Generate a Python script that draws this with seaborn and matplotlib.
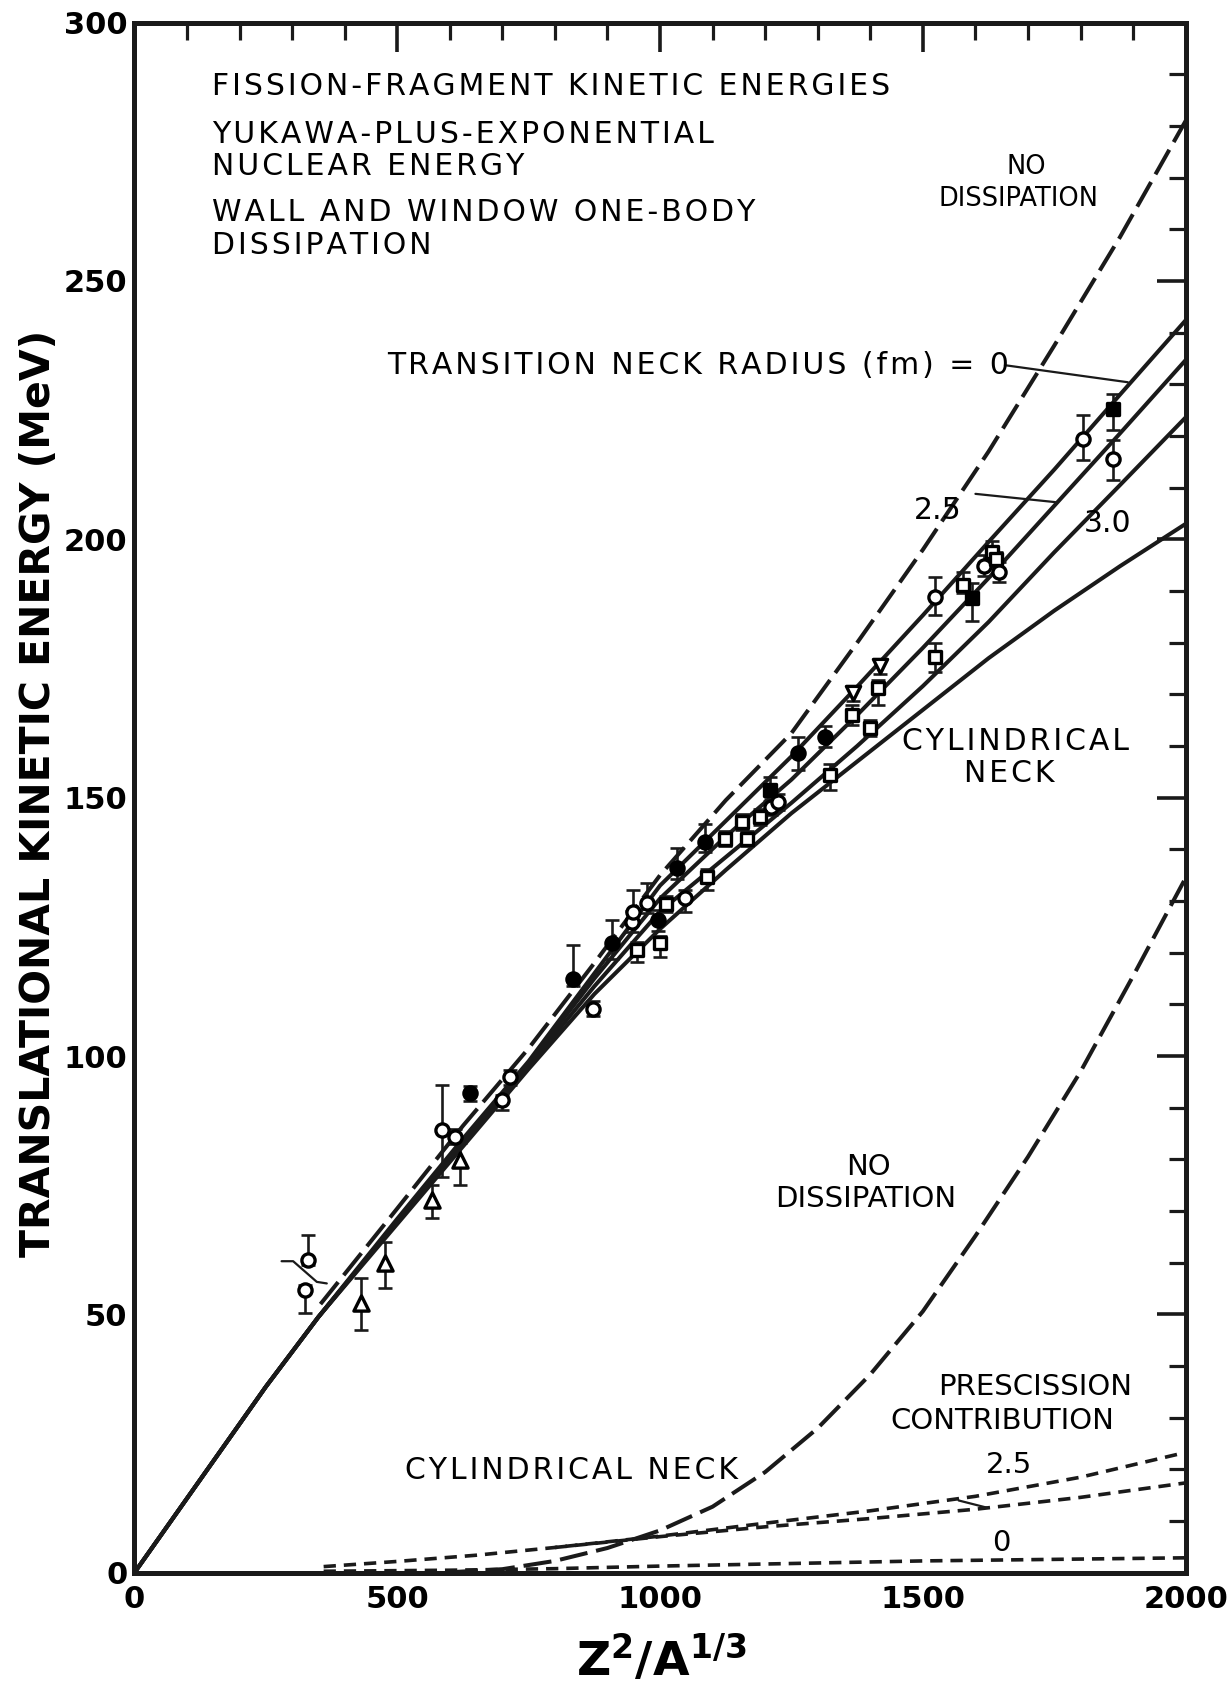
import numpy as np
import matplotlib
matplotlib.use("Agg")
import matplotlib.pyplot as plt
import seaborn as sns
from matplotlib.ticker import MultipleLocator

# --- DATA ---

# calculated fission-fragment kinetic energies, upper group of curves
X_CALC = [0, 250, 350, 500, 625, 750, 875, 1000, 1125, 1250, 1375, 1500, 1625, 1750, 1875, 2000]
TKE_NECK_0 = [0, 36, 49.5, 68.5, 84, 99, 116, 133, 145.5, 158, 171.5, 185.3, 199.5, 213.5, 228, 242.4]
TKE_NECK_25 = [0, 36, 49.5, 68, 83.5, 98.5, 115, 130.5, 142.5, 153.5, 166, 179, 192.5, 206.5, 220.5, 234.7]
TKE_NECK_30 = [0, 36, 49.5, 68, 83, 98, 113.5, 128, 138.5, 149, 160, 171.6, 184, 197.5, 210.5, 223.6]
TKE_CYL = [0, 36, 49.5, 67.5, 82.5, 97.5, 112, 124.6, 136, 147, 157, 167, 177, 186.2, 194.8, 203]

X_NODISS = [354, 500, 625, 750, 875, 1000, 1125, 1250, 1375, 1500, 1625, 1750, 1875, 2000]
TKE_NODISS = [52, 70.5, 86.5, 101.5, 118, 135, 149.5, 162.5, 180, 198, 217, 237.5, 258.5, 281]

# prescission contributions, lower group of curves
X_PRE_NODISS = [600, 700, 800, 900, 1000, 1100, 1200, 1300, 1400, 1500, 1600, 1700, 1800, 1900, 2000]
PRE_NODISS = [0.1, 0.7, 2.3, 4.8, 8.2, 12.8, 19.5, 28, 38.4, 50.6, 65.2, 80.5, 97, 115.5, 134.5]
X_PRE_CYL = [360, 500, 650, 800, 1000, 1200, 1400, 1600, 1800, 2000]
PRE_CYL = [1.2, 2.2, 3.4, 4.9, 7.1, 9.6, 12.0, 14.8, 18.5, 23.3]
X_PRE_25 = [800, 1000, 1200, 1400, 1600, 1800, 2000]
PRE_25 = [4.9, 7.0, 8.9, 10.5, 12.3, 14.6, 17.4]
X_PRE_0 = [360, 600, 800, 1000, 1500, 2000]
PRE_0 = [0.3, 0.5, 0.8, 1.3, 2.3, 2.9]

# experimental points: x, y, error below, error above
OC_X = [331, 325, 585, 610, 714, 699, 873, 946, 949, 975, 1047, 1212, 1225, 1523, 1616, 1645, 1805, 1862]
OC_Y = [60.5, 54.7, 85.7, 84.4, 95.9, 91.5, 109.2, 126, 127.9, 129.6, 130.6, 148.2, 149.2, 188.9, 194.9, 193.7, 219.5, 215.6]
OC_LO = [1, 4.5, 9.1, 1.5, 1.5, 2, 1.5, 2, 2, 2, 2.7, 1.5, 1.5, 3.5, 2, 2, 4.2, 4.1]
OC_HI = [4.9, 1, 8.7, 1.5, 1.5, 1, 1.5, 2, 4.2, 3.9, 1.5, 1.5, 1.5, 3.8, 2, 2, 4.5, 3.6]

FC_X = [638, 835, 908, 997, 1032, 1085, 1263, 1314]
FC_Y = [92.8, 115, 121.8, 126.3, 136.3, 141.5, 158.6, 161.8]
FC_LO = [1.5, 1.5, 3, 2, 2, 2, 3.2, 2]
FC_HI = [1.5, 6.5, 4.5, 2, 3.9, 3.5, 3.2, 2]

FS_X = [1209, 1593, 1862]
FS_Y = [151.4, 188.6, 225.3]
FS_LO = [2, 4.5, 4.2]
FS_HI = [2.6, 3, 2.9]

OS_X = [956, 1000, 1012, 1089, 1124, 1155, 1165, 1190, 1323, 1365, 1399, 1415, 1523, 1577, 1632, 1640]
OS_Y = [120.5, 121.8, 129.4, 134.7, 142.1, 145.3, 142.1, 146.3, 154.4, 166, 163.5, 171.2, 177.2, 191.2, 197.6, 196.1]
OS_LO = [2.2, 2.6, 1.5, 2.6, 1.5, 1.5, 1.5, 1.5, 3, 2, 1.5, 3.3, 2.8, 1.5, 1.5, 1.5]
OS_HI = [1.5, 1.5, 1.5, 1.5, 1.5, 1.5, 1.5, 1.5, 2.2, 2, 1.5, 1.5, 2.8, 2.5, 2, 1.5]

TU_X = [432, 477, 566, 620]
TU_Y = [52.2, 59.9, 72.2, 79.9]
TU_LO = [5.2, 4.8, 3.6, 4.9]
TU_HI = [4.8, 4.2, 2.8, 3.3]

TD_X = [1368, 1418]
TD_Y = [170.2, 175.4]
TD_LO = [1.5, 1.5]
TD_HI = [1.5, 1.5]

# hand-drawn bracket next to the lowest circles, and label leader lines
BRACKET_X = [280, 302, 347, 366]
BRACKET_Y = [60.3, 60.3, 56.3, 56.0]
LEAD0_X = [1656, 1890]
LEAD0_Y = [233.7, 230.4]
LEAD25_X = [1600, 1752]
LEAD25_Y = [208.8, 207.2]
LEADPRE_X = [1568, 1622]
LEADPRE_Y = [14.0, 12.6]


def spaced(s):
    # the lettering on the original is set with a little extra tracking
    return '\u200a'.join(s)


# --- PLOT ---
sns.set_theme(style="white")
plt.rcParams['font.family'] = ['DejaVu Sans']
plt.rcParams.update({'text.color': 'black', 'axes.labelcolor': 'black',
                     'xtick.color': 'black', 'ytick.color': 'black'})

fig = plt.figure(figsize=(12.32, 16.86), dpi=100)
ax = fig.add_axes([134.4 / 1232, 1 - 1572.8 / 1686, (1185.7 - 134.4) / 1232, (1572.8 - 22.6) / 1686])

LW = 2.9
for ys in [TKE_NECK_0, TKE_NECK_25, TKE_NECK_30, TKE_CYL]:
    sns.lineplot(x=X_CALC, y=ys, ax=ax, color='k', lw=LW, sort=False, estimator=None, zorder=2)

sns.lineplot(x=X_NODISS, y=TKE_NODISS, ax=ax, color='k', lw=LW, sort=False, estimator=None, zorder=2)
ax.lines[-1].set_dashes((7, 2.2))
sns.lineplot(x=X_PRE_NODISS, y=PRE_NODISS, ax=ax, color='k', lw=LW, sort=False, estimator=None, zorder=2)
ax.lines[-1].set_dashes((7, 2.2))

for xs, ys in [(X_PRE_CYL, PRE_CYL), (X_PRE_25, PRE_25), (X_PRE_0, PRE_0)]:
    sns.lineplot(x=xs, y=ys, ax=ax, color='k', lw=2.6, sort=False, estimator=None, zorder=2)
    ax.lines[-1].set_dashes((3.4, 2.2))

for xs, ys in [(BRACKET_X, BRACKET_Y), (LEAD0_X, LEAD0_Y), (LEAD25_X, LEAD25_Y), (LEADPRE_X, LEADPRE_Y)]:
    ax.plot(xs, ys, color='k', lw=1.6, zorder=2)

# error bars then markers
groups = [
    (OC_X, OC_Y, OC_LO, OC_HI, 'o', 'white', 90),
    (FC_X, FC_Y, FC_LO, FC_HI, 'o', 'black', 90),
    (FS_X, FS_Y, FS_LO, FS_HI, 's', 'black', 80),
    (OS_X, OS_Y, OS_LO, OS_HI, 's', 'white', 75),
    (TU_X, TU_Y, TU_LO, TU_HI, '^', 'white', 120),
    (TD_X, TD_Y, TD_LO, TD_HI, 'v', 'white', 105),
]
for xs, ys, lo, hi, mk, fc, sz in groups:
    ax.errorbar(xs, ys, yerr=[lo, hi], fmt='none', ecolor='k', elinewidth=1.9,
                capsize=4.8, capthick=1.9, zorder=3)
    sns.scatterplot(x=xs, y=ys, ax=ax, marker=mk, s=sz, facecolor=fc,
                    edgecolor='black', linewidth=2.4, zorder=4)

# axes, ticks
ax.set_xlim(0, 2000)
ax.set_ylim(0, 300)
ax.xaxis.set_major_locator(MultipleLocator(500))
ax.xaxis.set_minor_locator(MultipleLocator(100))
ax.yaxis.set_major_locator(MultipleLocator(50))
ax.yaxis.set_minor_locator(MultipleLocator(10))
ax.tick_params(which='both', direction='in', top=True, right=True, color='k')
ax.tick_params(which='major', length=21, width=2.6)
ax.tick_params(which='minor', length=12, width=2.3)
ax.tick_params(axis='x', which='major', pad=9, labelsize=22)
ax.tick_params(axis='y', which='major', pad=5, labelsize=22)
for lab in ax.get_xticklabels() + ax.get_yticklabels():
    lab.set_fontweight('bold')
for sp in ax.spines.values():
    sp.set_linewidth(3.6)
    sp.set_color('k')

ax.set_ylabel('TRANSLATIONAL KINETIC ENERGY (MeV)', fontsize=29.5, fontweight='bold')
ax.yaxis.set_label_coords(-0.072, 0.503)
ax.set_xlabel(r'$\mathbf{Z^2/A^{1/3}}$', fontsize=34)
ax.xaxis.set_label_coords(0.501, -0.040)

# annotations
big = dict(fontsize=21.5, va='center')
ax.text(147, 287.7, spaced('FISSION-FRAGMENT KINETIC ENERGIES'), ha='left', **big)
ax.text(147, 278.3, spaced('YUKAWA-PLUS-EXPONENTIAL'), ha='left', **big)
ax.text(147, 272.1, spaced('NUCLEAR ENERGY'), ha='left', **big)
ax.text(147, 263.2, spaced('WALL AND WINDOW ONE-BODY'), ha='left', **big)
ax.text(147, 256.9, spaced('DISSIPATION'), ha='left', **big)
ax.text(480, 233.6, spaced('TRANSITION NECK RADIUS (fm) = 0'), ha='left', **big)
ax.text(1528, 205.5, '2.5', ha='center', **big)
ax.text(1851, 203.0, '3.0', ha='center', **big)
ax.text(1677, 160.8, spaced('CYLINDRICAL'), ha='center', **big)
ax.text(1665, 154.6, spaced('NECK'), ha='center', **big)
ax.text(832, 19.8, spaced('CYLINDRICAL NECK'), ha='center', **big)

small = dict(fontsize=18.5, va='center')
ax.text(1697, 272.1, 'NO', ha='center', **small)
ax.text(1682, 265.9, 'DISSIPATION', ha='center', **small)

mid = dict(fontsize=21, va='center')
ax.text(1397, 78.6, 'NO', ha='center', **mid)
ax.text(1392, 72.3, 'DISSIPATION', ha='center', **mid)
ax.text(1714, 36.0, 'PRESCISSION', ha='center', **mid)
ax.text(1652, 29.3, 'CONTRIBUTION', ha='center', **mid)
ax.text(1663, 20.8, '2.5', ha='center', **mid)
ax.text(1650, 5.8, '0', ha='center', **mid)

fig.savefig('out.png', dpi=100, facecolor='white')
